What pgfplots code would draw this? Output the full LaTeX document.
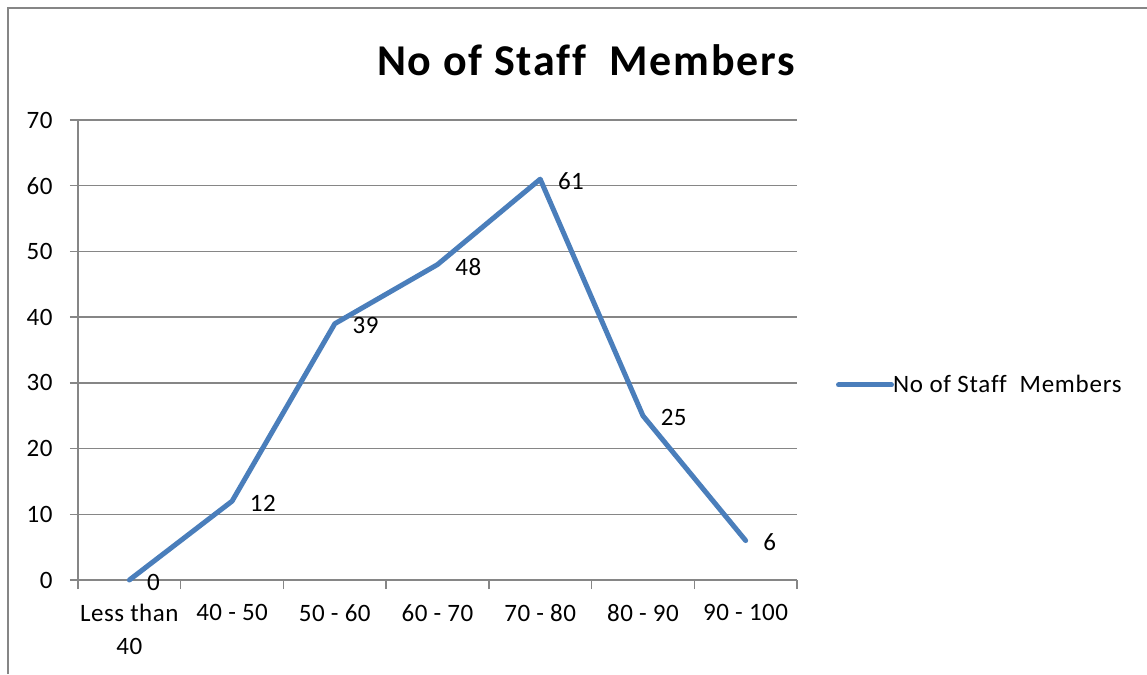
\documentclass[border=0pt]{standalone}
\usepackage{pgfplots}
\pgfplotsset{compat=1.18}
\usepackage{fontspec}
\setmainfont[Ligatures=NoCommon]{Carlito}
\definecolor{axgray}{HTML}{868686}
\definecolor{lineblue}{HTML}{4A7EBB}
\newcommand{\lbl}{\fontsize{25}{33}\selectfont\addfontfeature{LetterSpace=2}}
\begin{document}
\begin{tikzpicture}[x=1pt,y=1pt]
\useasboundingbox (0,0) rectangle (1147,674);
\draw[axgray,line width=1.5pt] (8,0) -- (8,666) -- (1147,666);
\node[font=\fontsize{44}{50}\selectfont\bfseries\addfontfeature{LetterSpace=4}] at (586,614) {No of Staff\ \ Members};
\begin{axis}[
  at={(78pt,94pt)}, anchor=south west,
  scale only axis, width=719pt, height=460pt,
  xmin=-0.5, xmax=6.5, ymin=0, ymax=70,
  axis x line*=bottom, axis y line*=left,
  axis line style={axgray, line width=1.3pt},
  ytick={0,10,...,70},
  xtick={0,...,6},
  xticklabels={{Less than\\40},{40 - 50},{50 - 60},{60 - 70},{70 - 80},{80 - 90},{90 - 100}},
  x tick label style={align=center, font=\lbl, yshift=-13pt},
  y tick label style={font=\lbl, xshift=-14pt},
  /pgf/number format/assume math mode=true,
  major x tick style={draw=none},
  minor xtick={-0.5,0.5,...,6.5},
  minor tick length=9pt,
  major tick length=8pt,
  tick align=outside,
  tick style={axgray, line width=1.3pt},
  ymajorgrids, grid style={axgray, line width=1.3pt},
  clip=false,
  legend style={at={(1.054,0.424)}, anchor=west, draw=none, fill=none,
    font=\fontsize{25}{33}\selectfont\addfontfeature{LetterSpace=3}, inner sep=0pt,
    /tikz/every even column/.append style={column sep=0pt}},
  legend image code/.code={\draw[#1, line cap=round] (0pt,0pt) -- (53pt,0pt);},
  legend cell align=left,
  nodes near coords,
  every node near coord/.append style={anchor=west, xshift=12pt, yshift=-2pt, text=black, font=\lbl},
]
\addplot[lineblue, line width=5pt, line join=round, line cap=round] coordinates {
(0,0) (1,12) (2,39) (3,48) (4,61) (5,25) (6,6)
};
\addlegendentry{\hspace{-3pt}No of Staff\ \ Members}
\end{axis}
\end{tikzpicture}
\end{document}
